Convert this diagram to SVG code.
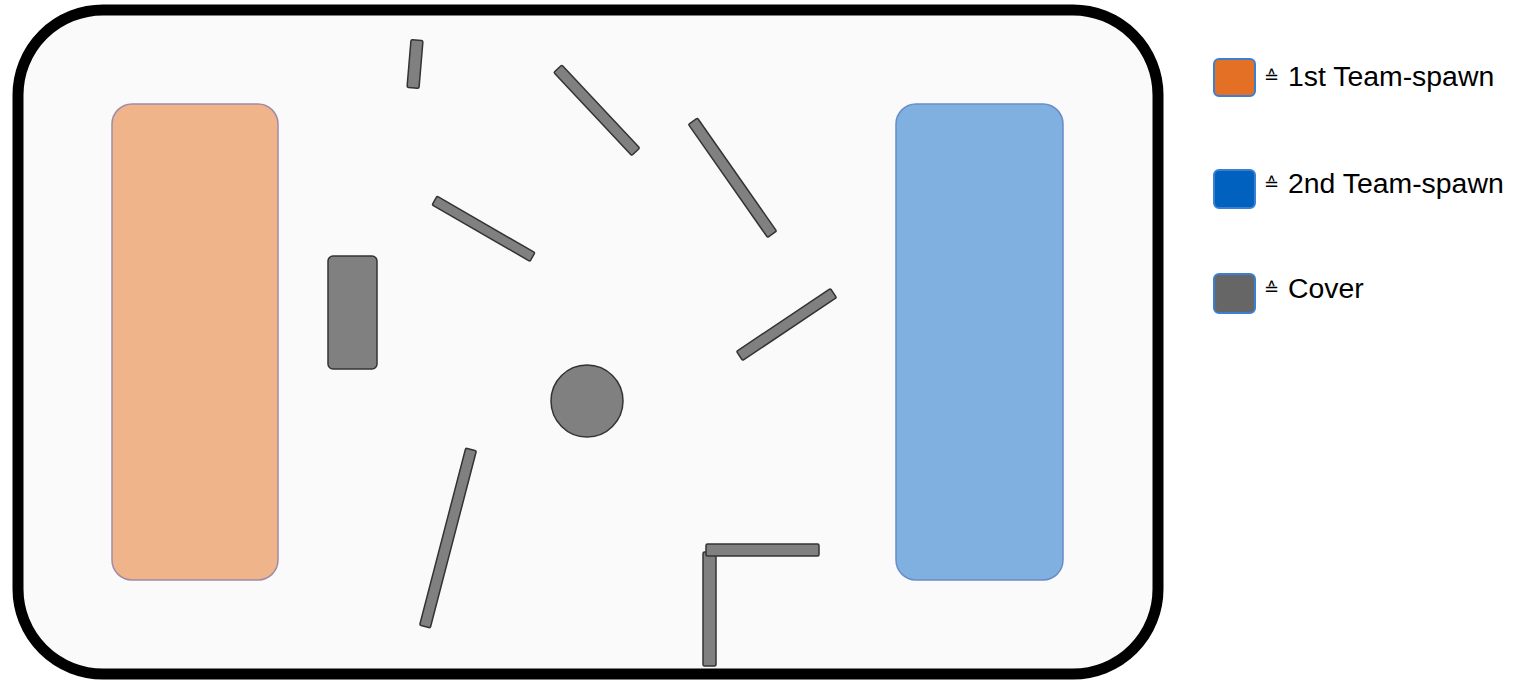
<svg xmlns="http://www.w3.org/2000/svg" width="1522" height="680" viewBox="0 0 1522 680">
<style>
.cover{fill:#808080;stroke:#333;stroke-width:1.5}
.lbl{font-family:"Liberation Sans",Arial,sans-serif;font-size:28.4px;fill:#000}
.eq{font-family:"DejaVu Sans",sans-serif;font-size:18px;fill:#000}
.sw{stroke:#3a7fd2;stroke-width:2}
</style>
<rect width="1522" height="680" fill="#fff"/>
<g id="arena">
<rect x="18" y="10" width="1140" height="664" rx="85" ry="85" fill="#fafafa" stroke="#000" stroke-width="11"/>
</g>
<g id="spawn1"><rect x="112" y="104" width="166" height="476" rx="20" fill="#f0b48a" stroke="#a08aa8" stroke-width="1.5"/></g>
<g id="spawn2"><rect x="896" y="104" width="167" height="476" rx="20" fill="#7fb0e0" stroke="#6a8cc8" stroke-width="1.5"/></g>
<g id="covers">
<rect id="cover-box" class="cover" x="328" y="256" width="49" height="113" rx="5"/>
<circle id="cover-circle" class="cover" cx="587" cy="401" r="36"/>
<g id="cover-bar1" transform="translate(415,64) rotate(-85.2)"><rect class="cover" x="-24" y="-6" width="48" height="12" rx="1.5"/></g>
<g id="cover-bar2" transform="translate(596.75,110.25) rotate(46.8)"><rect class="cover" x="-57" y="-5.5" width="114" height="11" rx="1.5"/></g>
<g id="cover-bar3" transform="translate(483.5,228.75) rotate(30)"><rect class="cover" x="-56.5" y="-5" width="113" height="10" rx="1.5"/></g>
<g id="cover-bar4" transform="translate(732.5,177.75) rotate(55)"><rect class="cover" x="-69" y="-5.5" width="138" height="11" rx="1.5"/></g>
<g id="cover-bar5" transform="translate(786.5,324.5) rotate(-33.8)"><rect class="cover" x="-56.5" y="-5.5" width="113" height="11" rx="1.5"/></g>
<g id="cover-bar6" transform="translate(448,538) rotate(-75.4)"><rect class="cover" x="-91.5" y="-5.5" width="183" height="11" rx="1.5"/></g>
<g id="cover-l">
<rect class="cover" x="703" y="552" width="13" height="114" rx="1.5"/>
<rect class="cover" x="706" y="544" width="113" height="12" rx="1.5"/>
</g>
</g>
<g id="legend">
<g id="legend-1">
<rect class="sw" x="1214" y="59" width="41" height="37" rx="5" fill="#e37025"/>
<text class="eq" x="1264" y="83">≙</text>
<text class="lbl" x="1288" y="86">1st Team-spawn</text>
</g>
<g id="legend-2">
<rect class="sw" x="1214" y="170" width="41" height="38" rx="5" fill="#0062be"/>
<text class="eq" x="1264" y="190">≙</text>
<text class="lbl" x="1288" y="193">2nd Team-spawn</text>
</g>
<g id="legend-3">
<rect class="sw" x="1214" y="274" width="41" height="39" rx="5" fill="#666"/>
<text class="eq" x="1264" y="295">≙</text>
<text class="lbl" x="1288" y="298">Cover</text>
</g>
</g>
</svg>
